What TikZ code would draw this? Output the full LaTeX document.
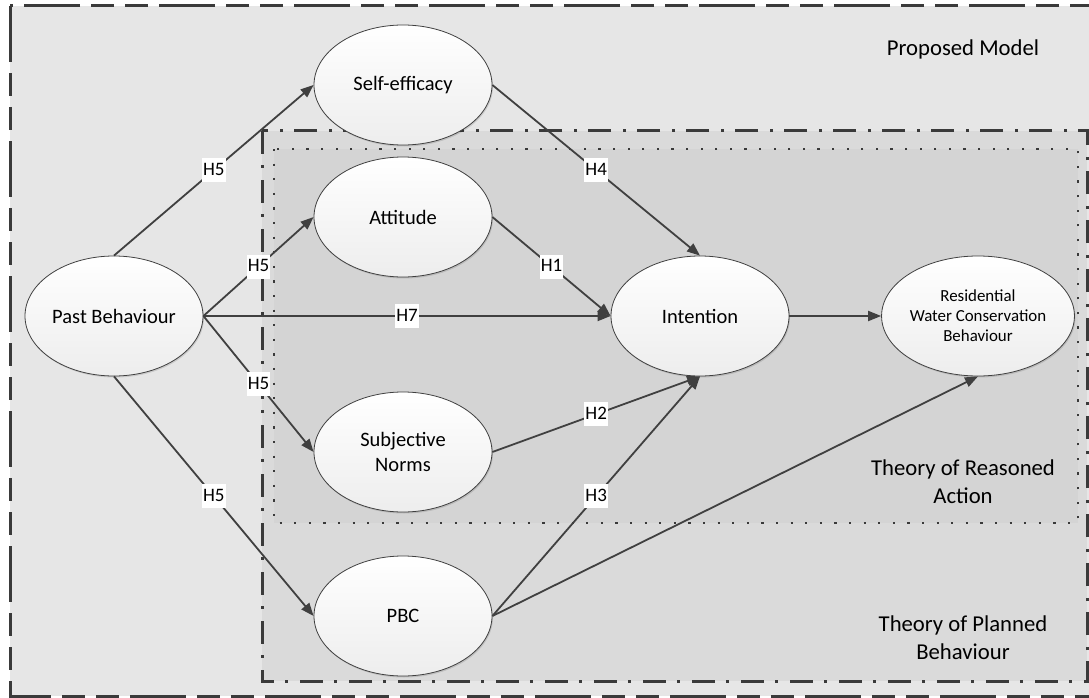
\documentclass[tikz,border=0pt]{standalone}
\usepackage{fontspec}
\setmainfont{Carlito}
\usetikzlibrary{shapes.geometric,arrows.meta,shadows}
\definecolor{outerfill}{HTML}{E6E6E6}
\definecolor{tpbfill}{HTML}{DADADA}
\definecolor{trafill}{HTML}{D4D4D4}
\definecolor{linec}{HTML}{404040}
\definecolor{boxc}{HTML}{3A3A3A}
\begin{document}
\begin{tikzpicture}[x=1pt,y=-1pt,
  latent/.style={ellipse, draw=linec, line width=0.8pt, minimum width=178pt, minimum height=120pt,
    inner sep=0pt, top color=white, bottom color=black!7,
    drop shadow={shadow xshift=1pt, shadow yshift=-1.5pt, fill=black, opacity=0.12},
    font=\fontsize{20.5}{25}\selectfont, align=center},
  conn/.style={draw=linec, line width=1.8pt, -{Triangle[length=13pt,width=10pt]}},
  hyp/.style={fill=white, inner xsep=1pt, inner ysep=1pt, text height=16pt, text depth=6pt,
    font=\fontsize{19}{22}\selectfont},
  region/.style={font=\fontsize{22.7}{28}\selectfont, align=center},
  outerline/.style={draw=boxc, line width=3pt, dash pattern=on 56pt off 11pt on 23pt off 11pt on 23pt off 11pt},
  tpbline/.style={draw=boxc, line width=3pt, dash pattern=on 23pt off 11pt on 3pt off 12pt},
  traline/.style={draw=boxc, line width=2.2pt, dash pattern=on 2.2pt off 12.4pt},
]
\useasboundingbox[fill=white] (0,0) rectangle (1089,698);
% regions
\fill[outerfill] (10,6) rectangle (1110,696);
\draw[outerline] (10,6) rectangle (1110,696);
\fill[tpbfill] (262,131) rectangle (1087,681);
\draw[tpbline] (262,131) rectangle (1087,681);
\fill[trafill] (274,149) rectangle (1078,523);
\draw[traline] (274,149) rectangle (1078,523);
% region labels
\node[region] (pm) at (963,49) {Proposed Model};
\node[region] (tra) at (963,482) {Theory of Reasoned\\Action};
\node[region] (tpb) at (963,638) {Theory of Planned\\Behaviour};
% constructs
\node[latent] (se) at (403,85) {Self-efficacy};
\node[latent] (att) at (403,217) {Attitude};
\node[latent] (pb) at (114,316) {Past Behaviour};
\node[latent] (int) at (700,316) {Intention};
\node[latent, font=\fontsize{16.9}{20}\selectfont] (rwcb) at (978,316) {Residential\\Water Conservation\\Behaviour};
\node[latent] (sn) at (403,452) {Subjective\\Norms};
\node[latent] (pbc) at (403,616) {PBC};
% paths
\draw[conn] (pb.north) -- node[hyp] (h5a) {H5} (se.west);
\draw[conn] (pb.east) -- node[hyp] (h5b) {H5} (att.west);
\draw[conn] (pb.east) -- node[hyp] (h7) {H7} (int.west);
\draw[conn] (pb.east) -- node[hyp] (h5c) {H5} (sn.west);
\draw[conn] (pb.south) -- node[hyp] (h5d) {H5} (pbc.west);
\draw[conn] (se.east) -- node[hyp] (h4) {H4} (int.north);
\draw[conn] (att.east) -- node[hyp] (h1) {H1} (int.west);
\draw[conn] (sn.east) -- node[hyp] (h2) {H2} (int.south);
\draw[conn] (pbc.east) -- node[hyp] (h3) {H3} (int.south);
\draw[conn] (pbc.east) -- (rwcb.south);
\draw[conn] (int.east) -- (rwcb.west);
\end{tikzpicture}
\end{document}
